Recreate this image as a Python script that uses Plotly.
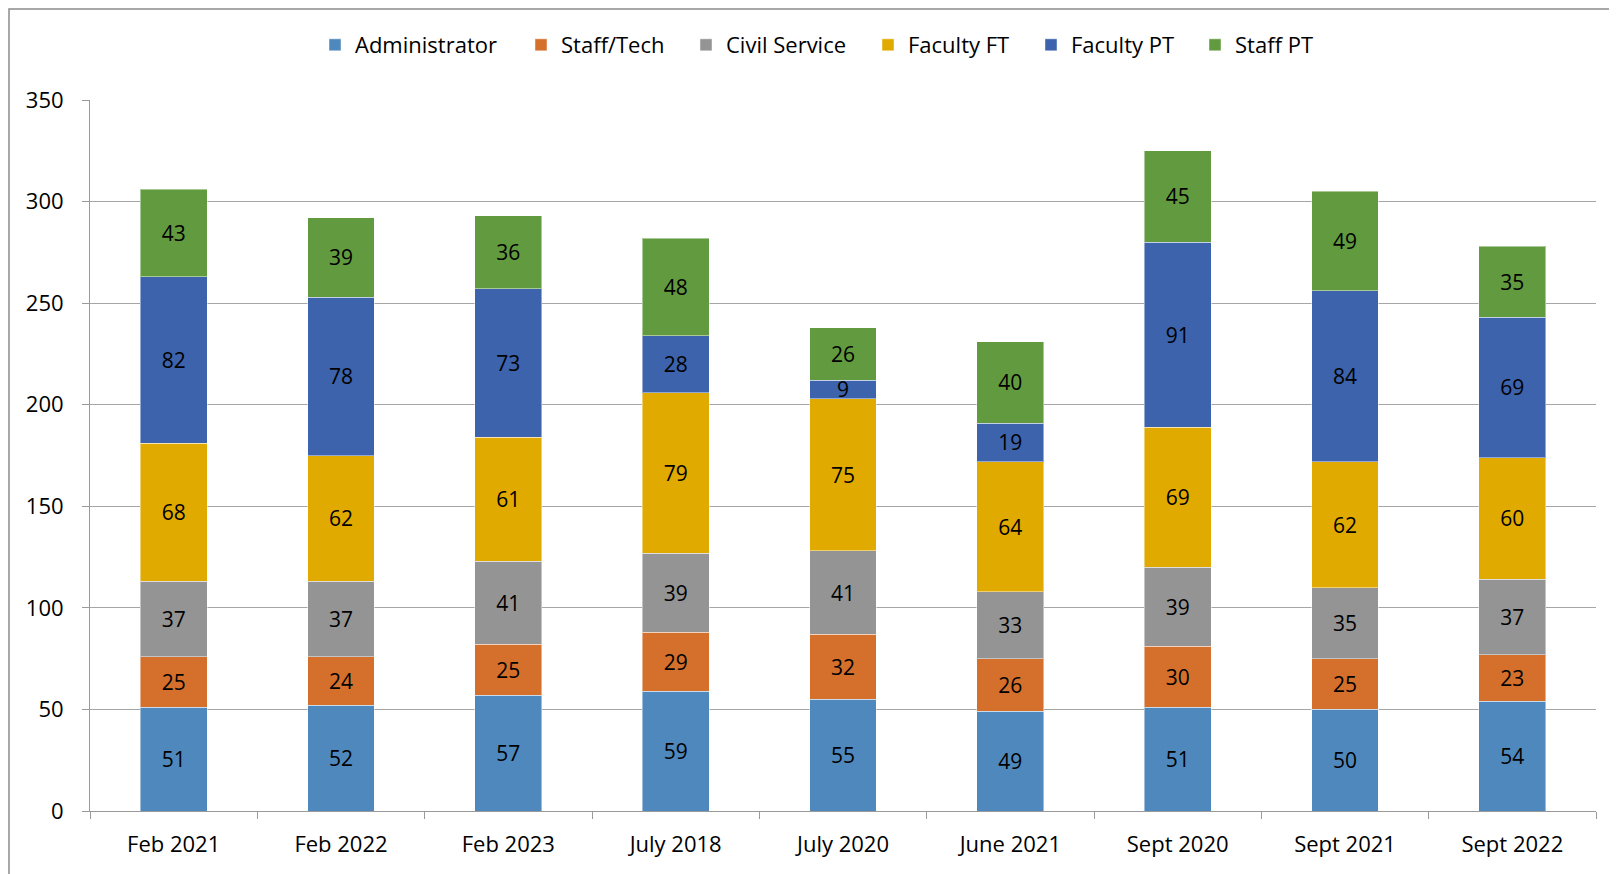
import plotly.graph_objects as go

categories = ["Feb 2021", "Feb 2022", "Feb 2023", "July 2018", "July 2020",
              "June 2021", "Sept 2020", "Sept 2021", "Sept 2022"]
administrator = [51, 52, 57, 59, 55, 49, 51, 50, 54]
staff_tech = [25, 24, 25, 29, 32, 26, 30, 25, 23]
civil_service = [37, 37, 41, 39, 41, 33, 39, 35, 37]
faculty_ft = [68, 62, 61, 79, 75, 64, 69, 62, 60]
faculty_pt = [82, 78, 73, 28, 9, 19, 91, 84, 69]
staff_pt = [43, 39, 36, 48, 26, 40, 45, 49, 35]

series = [
    ("Administrator", administrator, "#4F88BD"),
    ("Staff/Tech", staff_tech, "#D4702C"),
    ("Civil Service", civil_service, "#949494"),
    ("Faculty FT", faculty_ft, "#E1AA00"),
    ("Faculty PT", faculty_pt, "#3C63AC"),
    ("Staff PT", staff_pt, "#629B3F"),
]
# left edge (figure px) of each legend entry's colour square
legend_square_x = [320, 526, 691, 873, 1036, 1200]

FONT = "Open Sans"
W, H = 1617, 874
# page body adds an 8px offset; coordinates below are in figure space
L, R, T, B = 82, 29, 92, 71
pw, ph = W - L - R, H - T - B

fig = go.Figure()
legends = {}
for i, (name, vals, color) in enumerate(series):
    key = "legend" if i == 0 else f"legend{i + 1}"
    fig.add_trace(go.Bar(
        name=name, x=categories, y=vals, legend=key, showlegend=True,
        marker=dict(color=color, line=dict(color="rgba(255,255,255,0.45)", width=1)),
        text=[str(v) for v in vals], textposition="inside", textangle=0,
        insidetextanchor="middle",
        textfont=dict(family=FONT, size=21, color="black"),
    ))
    legends[key] = dict(orientation="h", x=(legend_square_x[i] - 13 - L) / pw,
                        xanchor="left", y=1.0 + (T - 37) / ph, yanchor="middle",
                        font=dict(family=FONT, size=22), itemwidth=30,
                        itemclick=False, bgcolor="rgba(0,0,0,0)")

fig.update_layout(
    width=W, height=H, barmode="stack", bargap=0.6, showlegend=True,
    margin=dict(l=L, r=R, t=T, b=B, autoexpand=False),
    paper_bgcolor="white", plot_bgcolor="white",
    font=dict(family=FONT, size=22, color="black"),
    uniformtext=dict(minsize=21, mode="show"),
    xaxis=dict(showline=True, linecolor="#9a9a9a", linewidth=1,
               ticks="outside", ticklen=7, tickcolor="#9a9a9a", tickson="boundaries",
               tickfont=dict(family=FONT, size=22), showgrid=False,
               ticklabelstandoff=14),
    yaxis=dict(range=[0, 350], dtick=50, showline=True, linecolor="#9a9a9a",
               ticks="outside", ticklen=7, tickcolor="#9a9a9a",
               showgrid=True, gridcolor="#a6a6a6", gridwidth=1,
               tickfont=dict(family=FONT, size=22), zeroline=False,
               ticklabelstandoff=14),
    shapes=[dict(type="rect", xref="paper", yref="paper",
                 x0=(1 - L) / pw, x1=1.1, y0=-0.3, y1=(H - B - 1) / ph,
                 line=dict(color="#8c8c8c", width=1.5), fillcolor="rgba(0,0,0,0)",
                 layer="below")],
    **legends,
)

fig.write_html("out.html")
